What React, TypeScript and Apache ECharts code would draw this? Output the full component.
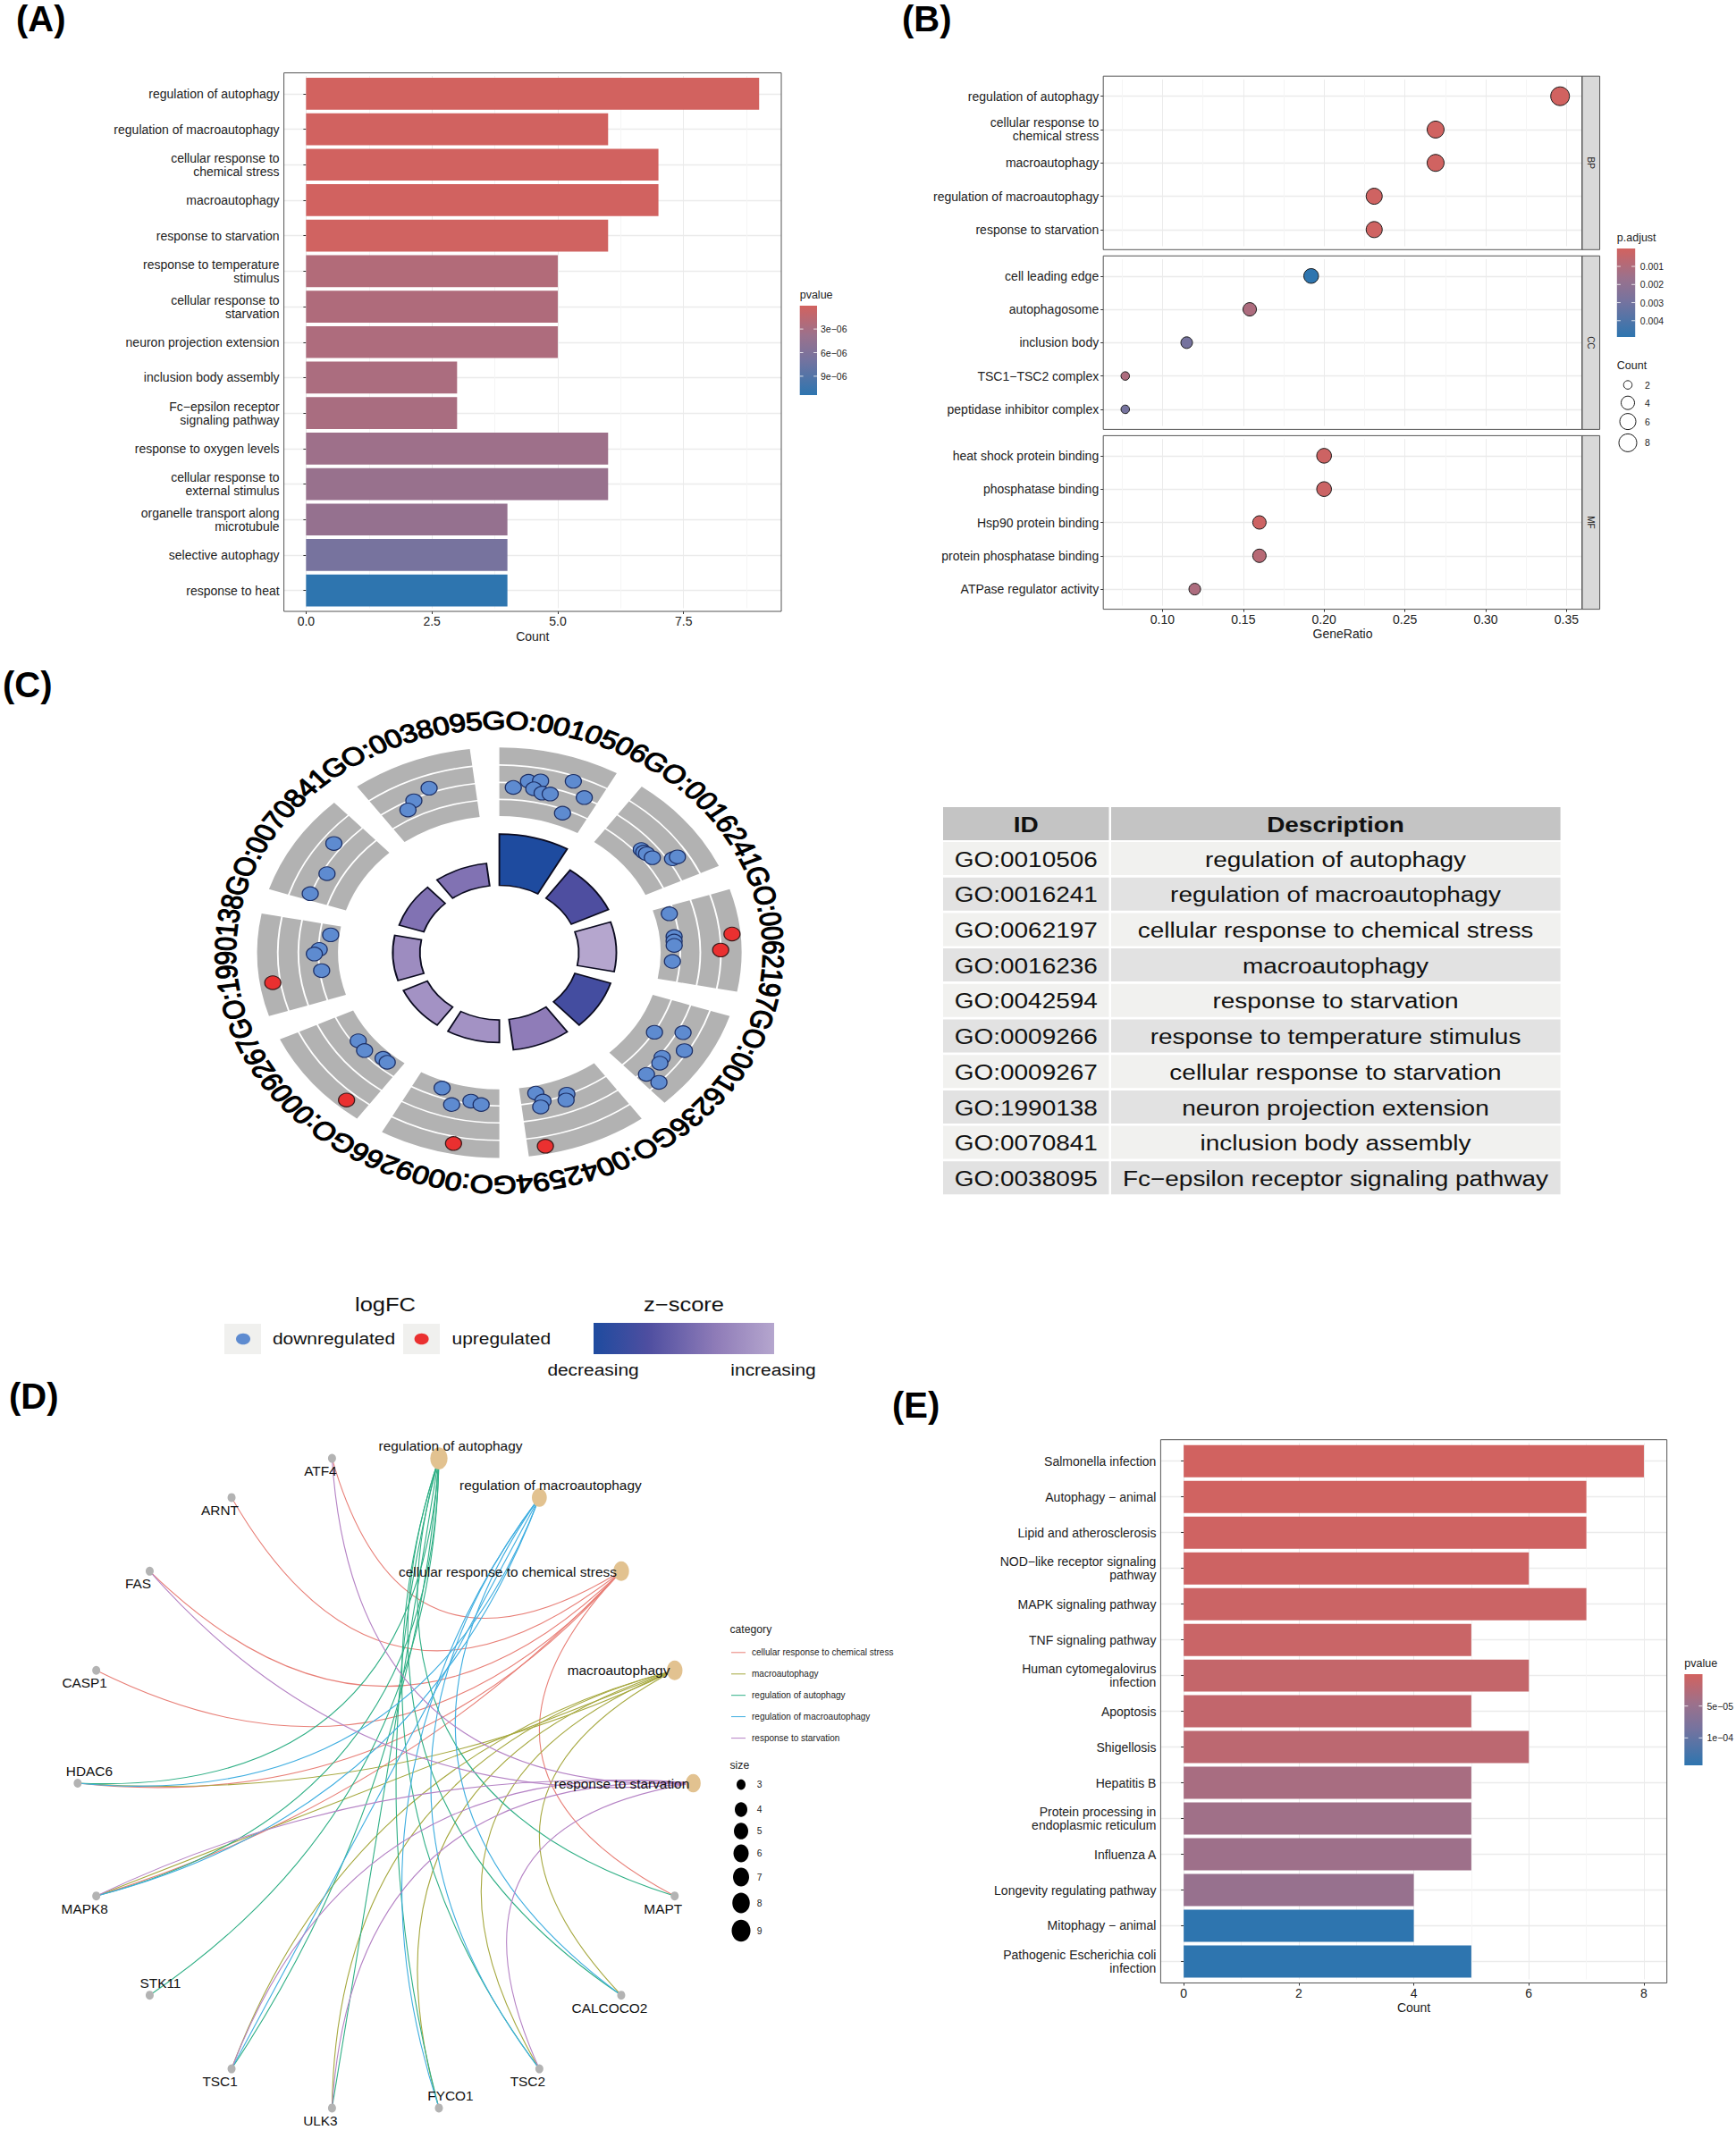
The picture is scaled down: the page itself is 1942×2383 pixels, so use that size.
import React, { useEffect, useRef } from "react";
import * as echarts from "echarts";

const FONT = '"Liberation Sans", Arial, sans-serif';
const INK = "#222222";

// ---------- Panel A ----------
const aCategories = [
  "regulation of autophagy", "regulation of macroautophagy", "cellular response to\nchemical stress", "macroautophagy",
  "response to starvation", "response to temperature\nstimulus", "cellular response to\nstarvation", "neuron projection extension",
  "inclusion body assembly", "Fc\u2212epsilon receptor\nsignaling pathway", "response to oxygen levels", "cellular response to\nexternal stimulus",
  "organelle transport along\nmicrotubule", "selective autophagy", "response to heat",
];
const aCounts = [9, 6, 7, 7, 6, 5, 5, 5, 3, 3, 6, 6, 4, 4, 4];
const aPvalues = [0.05e-6, 0.08e-6, 0.1e-6, 0.12e-6, 0.2e-6, 2.2e-6, 2.4e-6, 2.5e-6, 2.7e-6, 2.8e-6, 3.6e-6, 4.0e-6, 4.3e-6, 6.7e-6, 11.4e-6];
const aTicks = [0, 2.5, 5, 7.5];
const aMinor = [1.25, 3.75, 6.25, 8.75];

// ---------- Panel B ----------
const bpTerms = ["regulation of autophagy", "cellular response to\nchemical stress", "macroautophagy", "regulation of macroautophagy", "response to starvation"];
const bpRatio = [0.346, 0.269, 0.269, 0.231, 0.231];
const bpCount = [9, 7, 7, 6, 6];
const bpP = [0.00003, 0.00006, 0.00006, 0.0001, 0.0001];
const ccTerms = ["cell leading edge", "autophagosome", "inclusion body", "TSC1\u2212TSC2 complex", "peptidase inhibitor complex"];
const ccRatio = [0.192, 0.154, 0.115, 0.077, 0.077];
const ccCount = [5, 4, 3, 2, 2];
const ccP = [0.0049, 0.0011, 0.0029, 0.0011, 0.0029];
const mfTerms = ["heat shock protein binding", "phosphatase binding", "Hsp90 protein binding", "protein phosphatase binding", "ATPase regulator activity"];
const mfRatio = [0.2, 0.2, 0.16, 0.16, 0.12];
const mfCount = [5, 5, 4, 4, 3];
const mfP = [0.00015, 0.0002, 0.00015, 0.0008, 0.0011];
const bTicks = [0.1, 0.15, 0.2, 0.25, 0.3, 0.35];
const bMinor = [0.075, 0.125, 0.175, 0.225, 0.275, 0.325];
const countLegend = [2, 4, 6, 8];

// ---------- Panel C ----------
const goIds = ["GO:0010506", "GO:0016241", "GO:0062197", "GO:0016236", "GO:0042594", "GO:0009266", "GO:0009267", "GO:1990138", "GO:0070841", "GO:0038095"];
const goDescriptions = [
  "regulation of autophagy", "regulation of macroautophagy", "cellular response to chemical stress", "macroautophagy", "response to starvation",
  "response to temperature stimulus", "cellular response to starvation", "neuron projection extension", "inclusion body assembly", "Fc\u2212epsilon receptor signaling pathway",
];
const goBarOuter = [0.578, 0.497, 0.483, 0.483, 0.477, 0.438, 0.437, 0.44, 0.435, 0.438];
const goZ = [0, 0.3, 1, 0.24, 0.68, 0.85, 0.85, 0.8, 0.6, 0.6];
// [angle clockwise from 12 o'clock, radial position]
const goDown = [
  [4.1, 0.807], [8.2, 0.844], [11.5, 0.854], [10.1, 0.811], [12.8, 0.797], [15.2, 0.801], [20.1, 0.889], [24.9, 0.833], [21.0, 0.728],
  [49.4, 0.772], [50.6, 0.772], [51.6, 0.776], [53.8, 0.783], [57.4, 0.849], [57.6, 0.871],
  [74.9, 0.727], [83.8, 0.726], [85.5, 0.724], [87.2, 0.723], [93.4, 0.716],
  [121.2, 0.749], [117.2, 0.853], [122, 0.901], [127.2, 0.844], [129.1, 0.854], [134.3, 0.849], [133.8, 0.913],
  [167.6, 0.701], [166, 0.745], [167.2, 0.771], [158, 0.744], [159, 0.769],
  [199.7, 0.701], [194.9, 0.766], [189.2, 0.733], [185.8, 0.744],
  [233.6, 0.724], [229.4, 0.733], [223, 0.704], [220.9, 0.707],
  [277.1, 0.702], [271.2, 0.744], [269.5, 0.764], [263.2, 0.739],
  [307.9, 0.866], [298.4, 0.809], [290.2, 0.832],
  [340.1, 0.852], [334.5, 0.82], [331.5, 0.791],
];
const goUp = [[84.6, 0.965], [89.2, 0.914], [168.6, 0.962], [191.5, 0.949], [221.3, 0.956], [261.1, 0.947]];

// ---------- Panel D ----------
const netNodes = [
  "response to starvation", "macroautophagy", "cellular response to chemical stress", "regulation of macroautophagy", "regulation of autophagy",
  "ATF4", "ARNT", "FAS", "CASP1", "HDAC6", "MAPK8", "STK11", "TSC1", "ULK3", "FYCO1", "TSC2", "CALCOCO2", "MAPT",
];
const netTermSize = [6, 7, 7, 6, 9];
const netCategories = ["cellular response to chemical stress", "macroautophagy", "regulation of autophagy", "regulation of macroautophagy", "response to starvation"];
const netColors = ["#E87F77", "#A6A83F", "#2FAF85", "#3FAEE0", "#B583C5"];
const netGenes = [
  ["ARNT", "ATF4", "FAS", "CASP1", "HDAC6", "MAPK8", "MAPT"],
  ["HDAC6", "MAPK8", "TSC1", "ULK3", "FYCO1", "TSC2", "CALCOCO2"],
  ["HDAC6", "MAPK8", "STK11", "TSC1", "ULK3", "FYCO1", "TSC2", "CALCOCO2", "MAPT"],
  ["HDAC6", "MAPK8", "TSC1", "FYCO1", "TSC2", "CALCOCO2"],
  ["ATF4", "FAS", "MAPK8", "TSC1", "ULK3", "TSC2"],
];
const netSizeLegend = [3, 4, 5, 6, 7, 8, 9];

// ---------- Panel E ----------
const eCategories = [
  "Salmonella infection", "Autophagy \u2212 animal", "Lipid and atherosclerosis", "NOD\u2212like receptor signaling\npathway", "MAPK signaling pathway",
  "TNF signaling pathway", "Human cytomegalovirus\ninfection", "Apoptosis", "Shigellosis", "Hepatitis B",
  "Protein processing in\nendoplasmic reticulum", "Influenza A", "Longevity regulating pathway", "Mitophagy \u2212 animal", "Pathogenic Escherichia coli\ninfection",
];
const eCounts = [8, 7, 7, 6, 7, 5, 6, 5, 6, 5, 5, 5, 4, 4, 5];
const ePvalues = [1e-6, 2e-6, 3e-6, 4.5e-6, 6e-6, 8e-6, 1.2e-5, 1.4e-5, 1.9e-5, 3.6e-5, 4.3e-5, 4.5e-5, 5.1e-5, 1.43e-4, 1.43e-4];
const eTicks = [0, 2, 4, 6, 8];
const eMinor = [1, 3, 5, 7];

// ---------- Colour helpers ----------
const heatStops: [number, number[]][] = [
  [0, [210, 98, 95]], [0.33, [155, 113, 140]], [0.6, [117, 115, 159]], [1, [46, 117, 175]],
];
const zStops: [number, number[]][] = [
  [0, [30, 75, 159]], [0.3, [78, 78, 160]], [0.68, [143, 124, 184]], [1, [181, 166, 206]],
];
function ramp(stops: [number, number[]][], t: number) {
  const v = Math.max(0, Math.min(1, t));
  for (let i = 1; i < stops.length; i++) {
    if (v <= stops[i][0]) {
      const [t0, c0] = stops[i - 1];
      const [t1, c1] = stops[i];
      const f = (v - t0) / (t1 - t0);
      return `rgb(${c0.map((c, k) => Math.round(c + (c1[k] - c) * f)).join(",")})`;
    }
  }
  return `rgb(${stops[stops.length - 1][1].join(",")})`;
}
const toGradient = (stops: [number, number[]][]) => stops.map(([o, c]) => ({ offset: o, color: `rgb(${c.join(",")})` }));

const dotDiameter: Record<number, number> = { 2: 9.5, 3: 13, 4: 15, 5: 16.5, 6: 18, 7: 19, 8: 20, 9: 21 };

// ---------- Graphic helpers ----------
const graphics: any[] = [];
function txt(text: string, x: number, y: number, size: number, opts: any = {}) {
  const { align = "left", weight = "normal", scaleX = 1, rotation = 0, color = INK } = opts;
  graphics.push({
    type: "text", x, y, scaleX, rotation, silent: true, z: 20,
    style: { text, fill: color, font: `${weight} ${size}px ${FONT}`, textAlign: align, textVerticalAlign: "middle" },
  });
}
function box(x: number, y: number, w: number, h: number, fill: any, stroke?: string, z = 1) {
  graphics.push({
    type: "rect", x, y, silent: true, z, shape: { x: 0, y: 0, width: w, height: h },
    style: { fill, stroke: stroke || "none", lineWidth: stroke ? 1 : 0 },
  });
}
function colorbar(x: number, y: number, w: number, h: number, title: string, pMin: number, pMax: number, ticks: number[], tickLabels: string[], titleY: number, labelX: number) {
  txt(title, x, titleY, 12.5);
  box(x, y, w, h, new echarts.graphic.LinearGradient(0, 0, 0, 1, toGradient(heatStops)));
  ticks.forEach((p, i) => {
    const ty = y + (h * (p - pMin)) / (pMax - pMin);
    graphics.push({ type: "line", silent: true, z: 3, shape: { x1: x, y1: ty, x2: x + w * 0.2, y2: ty }, style: { stroke: "#fff", lineWidth: 0.8 } });
    graphics.push({ type: "line", silent: true, z: 3, shape: { x1: x + w * 0.8, y1: ty, x2: x + w, y2: ty }, style: { stroke: "#fff", lineWidth: 0.8 } });
    txt(tickLabels[i], labelX, ty, 10.5);
  });
}

// ---------- Cartesian panel builder ----------
const grids: any[] = [];
const xAxes: any[] = [];
const yAxes: any[] = [];
const series: any[] = [];
const PANEL_STROKE = "#555555";

function addPanel(opt: {
  left: number; right: number; top: number; bottom: number; step: number; cats: string[]; xMin: number; xMax: number;
  ticks: number[]; minor: number[]; fmt: (v: number) => string; name?: string; showX: boolean;
}) {
  const pad = (opt.bottom - opt.top - opt.cats.length * opt.step) / 2;
  const g = grids.length;
  grids.push({ left: opt.left, width: opt.right - opt.left, top: opt.top + pad, height: opt.step * opt.cats.length });
  const xi = xAxes.length;
  xAxes.push({
    gridIndex: g, type: "value", min: opt.xMin, max: opt.xMax, position: "bottom", offset: pad,
    axisLine: { show: false },
    axisTick: { show: opt.showX, length: 3, customValues: opt.ticks, lineStyle: { color: "#333" } },
    axisLabel: { show: opt.showX, customValues: opt.ticks, formatter: opt.fmt, fontSize: 14, color: INK, fontFamily: FONT, margin: 4, hideOverlap: false },
    splitLine: { show: true, lineStyle: { color: "#EBEBEB", width: 1 } },
    name: opt.name, nameLocation: "middle", nameGap: 20.5, nameTextStyle: { fontSize: 14, color: INK, fontFamily: FONT },
  });
  xAxes.push({
    gridIndex: g, type: "value", min: opt.xMin, max: opt.xMax, position: "top",
    axisLine: { show: false }, axisTick: { show: false, customValues: opt.minor }, axisLabel: { show: false },
    splitLine: { show: true, lineStyle: { color: "#F5F5F5", width: 1 } },
  });
  const yi = yAxes.length;
  yAxes.push({
    gridIndex: g, type: "category", data: opt.cats, inverse: true, position: "left",
    axisLine: { show: false },
    axisTick: { show: true, alignWithLabel: true, length: 3, lineStyle: { color: "#333" } },
    axisLabel: { interval: 0, fontSize: 14, lineHeight: 15, color: INK, fontFamily: FONT, margin: 5, align: "right" },
    splitLine: { show: true, alignWithLabel: true, lineStyle: { color: "#EBEBEB", width: 1.4 } },
  });
  box(opt.left, opt.top, opt.right - opt.left, opt.bottom - opt.top, "none", PANEL_STROKE, 10);
  return { xi, yi };
}

// ---------- A ----------
{
  const { xi, yi } = addPanel({
    left: 317.6, right: 874, top: 81.5, bottom: 684, step: 39.7, cats: aCategories, xMin: -0.44, xMax: 9.44,
    ticks: aTicks, minor: aMinor, fmt: (v) => v.toFixed(1), name: "Count", showX: true,
  });
  const pMin = 0.03e-6, pMax = 11.4e-6;
  series.push({
    type: "bar", xAxisIndex: xi, yAxisIndex: yi, barCategoryGap: "10%", z: 5,
    data: aCounts.map((v, i) => ({ value: v, itemStyle: { color: ramp(heatStops, (aPvalues[i] - pMin) / (pMax - pMin)) } })),
  });
  colorbar(894.7, 342, 19.3, 100, "pvalue", pMin, pMax, [3e-6, 6e-6, 9e-6], ["3e\u221206", "6e\u221206", "9e\u221206"], 330, 918);
}

// ---------- B ----------
{
  const left = 1234.2, right = 1769.8;
  const tops = [85.2, 286.3, 487.4];
  const bots = [279.3, 480.4, 681.6];
  const strips = ["BP", "CC", "MF"];
  const terms = [bpTerms, ccTerms, mfTerms];
  const ratios = [bpRatio, ccRatio, mfRatio];
  const counts = [bpCount, ccCount, mfCount];
  const ps = [bpP, ccP, mfP];
  const pMax = 0.0049;
  terms.forEach((t, k) => {
    const { xi, yi } = addPanel({
      left, right, top: tops[k], bottom: bots[k], step: 37.3, cats: t, xMin: 0.0634, xMax: 0.3596,
      ticks: bTicks, minor: bMinor, fmt: (v) => v.toFixed(2), name: k === 2 ? "GeneRatio" : undefined, showX: k === 2,
    });
    series.push({
      type: "scatter", xAxisIndex: xi, yAxisIndex: yi, z: 5,
      data: ratios[k].map((r, i) => ({
        value: [r, i], symbolSize: dotDiameter[counts[k][i]],
        itemStyle: { color: ramp(heatStops, ps[k][i] / pMax), borderColor: "#1a1a1a", borderWidth: 1, opacity: 1 },
      })),
    });
    box(right, tops[k], 19.8, bots[k] - tops[k], "#D9D9D9", PANEL_STROKE, 9);
    txt(strips[k], right + 9.9, (tops[k] + bots[k]) / 2, 10, { align: "center", rotation: -Math.PI / 2 });
  });
  colorbar(1808.8, 278, 20.4, 99, "p.adjust", 0.00001, pMax, [0.001, 0.002, 0.003, 0.004], ["0.001", "0.002", "0.003", "0.004"], 266, 1834.8);
  txt("Count", 1808.8, 409, 12.5);
  const rowY = [430.6, 450.7, 471.6, 495.4];
  countLegend.forEach((c, i) => {
    graphics.push({
      type: "circle", silent: true, z: 5, x: 1821, y: rowY[i], shape: { cx: 0, cy: 0, r: dotDiameter[c] / 2 },
      style: { fill: "#fff", stroke: "#1a1a1a", lineWidth: 1 },
    });
    txt(String(c), 1843, rowY[i], 10.5, { align: "center" });
  });
}

// ---------- E ----------
{
  const { xi, yi } = addPanel({
    left: 1298.4, right: 1864.7, top: 1610.7, bottom: 2218.5, step: 39.98, cats: eCategories, xMin: -0.4, xMax: 8.4,
    ticks: eTicks, minor: eMinor, fmt: (v) => String(v), name: "Count", showX: true,
  });
  const pMin = 0, pMax = 1.43e-4;
  series.push({
    type: "bar", xAxisIndex: xi, yAxisIndex: yi, barCategoryGap: "10%", z: 5,
    data: eCounts.map((v, i) => ({ value: v, itemStyle: { color: ramp(heatStops, (ePvalues[i] - pMin) / (pMax - pMin)) } })),
  });
  colorbar(1884.3, 1873, 20.2, 102, "pvalue", pMin, pMax, [5e-5, 1e-4], ["5e\u221205", "1e\u221204"], 1861, 1909.5);
}

// ---------- C: rings on a stretched hidden cartesian grid ----------
{
  const rx = 270.9, ry = 229.6, cx = 558.6, cy = 1065.8, ext = 1.3;
  const g = grids.length;
  grids.push({ left: cx - ext * rx, width: 2 * ext * rx, top: cy - ext * ry, height: 2 * ext * ry });
  const xi = xAxes.length;
  xAxes.push({ gridIndex: g, type: "value", min: -ext, max: ext, show: false });
  const yi = yAxes.length;
  yAxes.push({ gridIndex: g, type: "value", min: -ext, max: ext, show: false });

  const bands = [[0.666, 0.743], [0.75, 0.826], [0.833, 0.911], [0.918, 1]];
  const span = 29;
  const sectors: any[] = [];
  goIds.forEach((_, i) => {
    bands.forEach(([r0, r1]) => sectors.push({ r0, r1, a0: i * 36, a1: i * 36 + span, fill: "#B2B2B2", stroke: "none", lw: 0 }));
    sectors.push({ r0: 0.328, r1: goBarOuter[i], a0: i * 36, a1: i * 36 + span, fill: ramp(zStops, goZ[i]), stroke: "#0b0b20", lw: 1.6 });
  });
  const deg = Math.PI / 180;
  series.push({
    type: "custom", coordinateSystem: "cartesian2d", xAxisIndex: xi, yAxisIndex: yi, z: 2, clip: false, silent: true,
    data: sectors.map(() => [0, 0]),
    renderItem: (p: any, api: any) => {
      const s = sectors[p.dataIndex];
      const c = api.coord([0, 0]);
      const sz = api.size([1, 1]);
      return {
        type: "group", x: c[0], y: c[1], scaleX: sz[0] / sz[1],
        children: [{
          type: "sector",
          shape: { cx: 0, cy: 0, r0: s.r0 * sz[1], r: s.r1 * sz[1], startAngle: (s.a0 - 90) * deg, endAngle: (s.a1 - 90) * deg, clockwise: true },
          style: { fill: s.fill, stroke: s.stroke, lineWidth: s.lw },
        }],
      };
    },
  });
  // curved id labels, one glyph at a time
  const glyphW = (ch: string) => (ch === "G" || ch === "O" ? 0.778 : ch === ":" ? 0.278 : 0.556);
  series.push({
    type: "custom", coordinateSystem: "cartesian2d", xAxisIndex: xi, yAxisIndex: yi, z: 4, clip: false, silent: true,
    data: goIds.map(() => [0, 0]),
    renderItem: (p: any, api: any) => {
      const c = api.coord([0, 0]);
      const sz = api.size([1, 1]);
      const R = 1.13 * sz[1];
      const F = 28.5;
      let a = p.dataIndex * 36 - 3.6;
      const children: any[] = [];
      for (const ch of goIds[p.dataIndex]) {
        const adv = (glyphW(ch) * F) / R / deg;
        const mid = a + adv / 2;
        children.push({
          type: "text", x: R * Math.sin(mid * deg), y: -R * Math.cos(mid * deg), rotation: -mid * deg,
          style: { text: ch, fill: "#000", stroke: "#000", lineWidth: 1.1, font: `${F}px ${FONT}`, textAlign: "center", textVerticalAlign: "middle" },
        });
        a += adv;
      }
      return { type: "group", x: c[0], y: c[1], scaleX: sz[0] / sz[1], children };
    },
  });
  const toXY = ([a, r]: number[]) => [r * Math.sin(a * deg), r * Math.cos(a * deg)];
  series.push({
    type: "scatter", xAxisIndex: xi, yAxisIndex: yi, z: 3, symbolSize: [18, 15.2], clip: false,
    itemStyle: { color: "#5E8BD0", borderColor: "#1C2F66", borderWidth: 1.2, opacity: 1 }, data: goDown.map(toXY),
  });
  series.push({
    type: "scatter", xAxisIndex: xi, yAxisIndex: yi, z: 3, symbolSize: [18, 15.2], clip: false,
    itemStyle: { color: "#EA3030", borderColor: "#3a1a1a", borderWidth: 1.2, opacity: 1 }, data: goUp.map(toXY),
  });

  // table
  const S = 1.19;
  box(1055, 903, 185.5, 37, "#C4C4C4");
  box(1243, 903, 502.6, 37, "#C4C4C4");
  txt("ID", 1147.8, 922.5, 23.5, { align: "center", weight: "bold", scaleX: S, color: "#111" });
  txt("Description", 1494, 922.5, 23.5, { align: "center", weight: "bold", scaleX: S, color: "#111" });
  goIds.forEach((id, i) => {
    const y = 942 + i * 39.7;
    const fill = i % 2 === 0 ? "#F1F1EF" : "#E2E2E2";
    box(1055, y, 185.5, 37, fill);
    box(1243, y, 502.6, 37, fill);
    txt(id, 1147.8, y + 19.5, 23.5, { align: "center", scaleX: S, color: "#111" });
    txt(goDescriptions[i], 1494, y + 19.5, 23.5, { align: "center", scaleX: S, color: "#111" });
  });

  // legend
  const L = 1.175;
  txt("logFC", 431, 1460, 21.7, { align: "center", scaleX: L, color: "#111" });
  box(251, 1481, 41, 34, "#F0F0EE");
  box(451, 1481, 41, 34, "#F0F0EE");
  graphics.push({ type: "ellipse", silent: true, z: 5, x: 272, y: 1498, shape: { cx: 0, cy: 0, rx: 8, ry: 6.3 }, style: { fill: "#5E8BD0" } });
  graphics.push({ type: "ellipse", silent: true, z: 5, x: 471.6, y: 1498, shape: { cx: 0, cy: 0, rx: 8, ry: 6.3 }, style: { fill: "#EA3030" } });
  txt("downregulated", 305, 1498, 17.8, { scaleX: L, color: "#111" });
  txt("upregulated", 505.6, 1498, 17.8, { scaleX: L, color: "#111" });
  txt("z\u2212score", 765, 1460, 21.7, { align: "center", scaleX: L, color: "#111" });
  box(664, 1480, 202, 35, new echarts.graphic.LinearGradient(0, 0, 1, 0, toGradient(zStops)));
  txt("decreasing", 663.5, 1533, 17.8, { align: "center", scaleX: L, color: "#111" });
  txt("increasing", 865, 1533, 17.8, { align: "center", scaleX: L, color: "#111" });
}

// ---------- D: concept network ----------
{
  const cx = 431.2, cy = 1995, rx = 344.3, ry = 369;
  const g = grids.length;
  grids.push({ left: cx - rx, width: 2 * rx, top: cy - ry, height: 2 * ry });
  const xi = xAxes.length;
  xAxes.push({ gridIndex: g, type: "value", min: -1, max: 1, show: false });
  const yi = yAxes.length;
  yAxes.push({ gridIndex: g, type: "value", min: -1, max: 1, show: false });
  const pos = netNodes.map((_, i) => [Math.cos((i * 20 * Math.PI) / 180), Math.sin((i * 20 * Math.PI) / 180)]);
  const offsets: Record<string, number[]> = {
    "response to starvation": [-80, 0], macroautophagy: [-62.7, 0], "cellular response to chemical stress": [-127, 0.6],
    "regulation of macroautophagy": [12.5, -13.8], "regulation of autophagy": [13, -13.7],
    HDAC6: [13, -13.4], STK11: [12, -13.4], FYCO1: [13, -13.6],
  };
  const termDia: Record<number, number[]> = { 6: [16.7, 20.7], 7: [17.5, 22], 9: [19.3, 24.7] };
  const data = netNodes.map((name, i) => ({
    name, value: pos[i],
    symbolSize: i < 5 ? termDia[netTermSize[i]] : [9, 10],
    itemStyle: { color: i < 5 ? "#E2C290" : "#B3B3B3" },
    label: { show: true, position: "inside", offset: offsets[name] || [-13, 14], fontSize: 15.4, color: "#111", fontFamily: FONT },
  }));
  const links: any[] = [];
  netGenes.forEach((genes, k) => {
    const term = netCategories[k];
    const t = pos[netNodes.indexOf(term)];
    genes.forEach((gene) => {
      const s = pos[netNodes.indexOf(gene)];
      // pixel positions relative to the ring's centre; arcs bow towards the centre, less so for near-opposite nodes
      const x1 = s[0] * rx, y1 = -s[1] * ry, x2 = t[0] * rx, y2 = -t[1] * ry;
      const mx = (x1 + x2) / 2, my = (y1 + y2) / 2;
      const side = (y1 - y2) * mx + (x2 - x1) * my;
      const bend = 0.76 * Math.hypot((s[0] + t[0]) / 2, (s[1] + t[1]) / 2);
      links.push({ source: gene, target: term, lineStyle: { color: netColors[k], curveness: side >= 0 ? bend : -bend, width: 1.1, opacity: 1 } });
    });
  });
  series.push({
    type: "graph", coordinateSystem: "cartesian2d", xAxisIndex: xi, yAxisIndex: yi, layout: "none", z: 6, silent: true,
    data, links, edgeSymbol: ["none", "none"],
  });
  txt("category", 816.5, 1823, 12.2);
  const rows = [1848.8, 1872.8, 1896.7, 1920.6, 1944.6];
  netCategories.forEach((c, i) => {
    graphics.push({ type: "line", silent: true, z: 5, shape: { x1: 818, y1: rows[i], x2: 834, y2: rows[i] }, style: { stroke: netColors[i], lineWidth: 1 } });
    txt(c, 841, rows[i], 10);
  });
  txt("size", 816.5, 1974.5, 12.2);
  const sizeY = [1996.6, 2024.5, 2048.5, 2073.5, 2100, 2129, 2160];
  const sizeD = [10, 14, 16, 17, 18, 19.5, 21];
  netSizeLegend.forEach((c, i) => {
    graphics.push({ type: "ellipse", silent: true, z: 5, x: 829, y: sizeY[i], shape: { cx: 0, cy: 0, rx: sizeD[i] / 2, ry: (sizeD[i] / 2) * 1.17 }, style: { fill: "#000" } });
    txt(String(c), 849.7, sizeY[i], 10.3, { align: "center" });
  });
}

// ---------- Panel letters ----------
txt("(A)", 18, 21, 40, { weight: "bold", color: "#000" });
txt("(B)", 1009, 21, 40, { weight: "bold", color: "#000" });
txt("(C)", 3, 766, 40, { weight: "bold", color: "#000" });
txt("(D)", 10, 1561.6, 40, { weight: "bold", color: "#000" });
txt("(E)", 998, 1571.5, 40, { weight: "bold", color: "#000" });

export default function App() {
  const ref = useRef<HTMLDivElement>(null);
  useEffect(() => {
    const chart = echarts.init(ref.current!, null, { renderer: "svg" });
    chart.setOption({
      animation: false,
      backgroundColor: "#ffffff",
      textStyle: { fontFamily: FONT },
      grid: grids,
      xAxis: xAxes,
      yAxis: yAxes,
      series,
      graphic: { elements: graphics },
    });
    return () => chart.dispose();
  }, []);
  return <div ref={ref} style={{ position: "absolute", left: 0, top: 0, width: 1942, height: 2383 }} />;
}
